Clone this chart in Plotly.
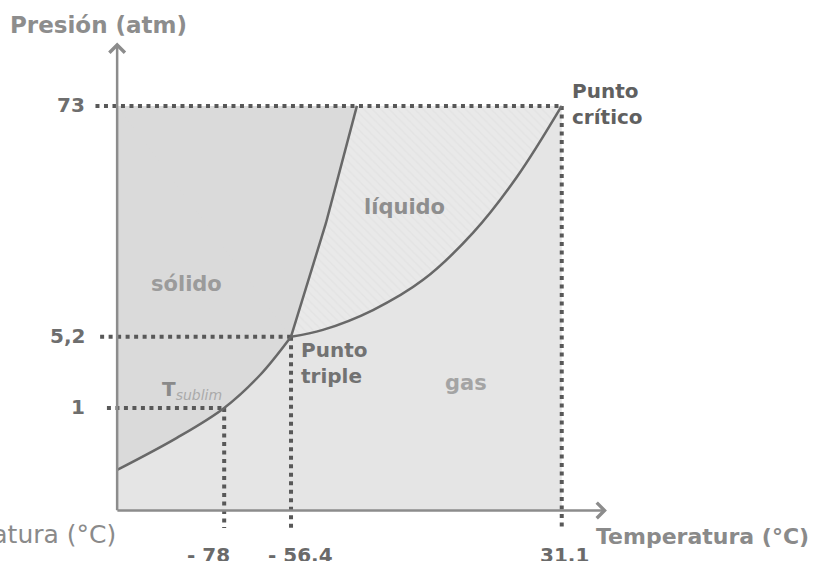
import numpy as np
import plotly.graph_objects as go

# ---- data: CO2 phase diagram -------------------------------------------
# reference temperatures (°C) and pressures (atm)
tick_temps = [-78, -56.4, 31.1]
tick_temp_labels = ["- 78", "- 56.4", "31.1"]
tick_press = [1, 5.2, 73]
tick_press_labels = ["1", "5,2", "73"]

# sublimation curve (solid / gas)
subl_T = [-112.6, -93.3, -78, -66.4, -56.4]
subl_P = [0.055, 0.34, 1.0, 2.39, 5.2]

# fusion curve (solid / liquid)
fus_T = [-56.4, -45.1, -35.1]
fus_P = [5.2, 25.1, 73]

# vaporization curve (liquid / gas)
vap_T = [-56.4, -46.1, -29.9, -13.7, 2.4, 16.6, 31.1]
vap_P = [5.2, 5.87, 8.13, 12.6, 22.5, 39.9, 73]

# extent of the drawn axes
T_MIN, T_MAX = -112.6, 45.7
P_MAX = 115

# ---- schematic pressure scale ------------------------------------------
P_EXP = 0.32


def ps(p):
    return np.power(np.asarray(p, dtype=float), P_EXP)


FONT = "DejaVu Sans"
AXIS_COLOR = "#8c8c8c"
CURVE_COLOR = "#686868"
DOT_COLOR = "#585858"
GAS_FILL = "#e5e5e5"
SOLID_FILL = "#dadada"
LIQ_FILL = "#e9e9e9"

crit_T, crit_P = vap_T[-1], vap_P[-1]
u_top = float(ps(crit_P))

fig = go.Figure()

# gas background: whole box under the critical point
fig.add_shape(type="rect", layer="below", xref="x", yref="y",
              x0=T_MIN, x1=crit_T, y0=0, y1=u_top,
              fillcolor=GAS_FILL, line=dict(width=0))

invis = dict(width=1, color="rgba(0,0,0,0)")

# solid region, left of the triple point (between top edge and sublimation curve)
fig.add_trace(go.Scatter(x=[T_MIN, subl_T[-1]], y=[u_top, u_top], mode="lines",
                         line=invis, hoverinfo="skip"))
fig.add_trace(go.Scatter(x=subl_T, y=ps(subl_P), mode="lines",
                         line=dict(width=1, color="rgba(0,0,0,0)", shape="spline"),
                         fill="tonexty", fillcolor=SOLID_FILL, hoverinfo="skip"))
# solid region, wedge left of the fusion curve
fig.add_trace(go.Scatter(x=fus_T + [T_MIN], y=ps(fus_P + [crit_P]), mode="lines",
                         line=invis, fill="toself", fillcolor=SOLID_FILL,
                         hoverinfo="skip"))

# liquid region between fusion and vaporization curves
fig.add_trace(go.Scatter(x=vap_T, y=ps(vap_P), mode="lines",
                         line=dict(width=1, color="rgba(0,0,0,0)", shape="spline"),
                         hoverinfo="skip"))
fig.add_trace(go.Scatter(x=fus_T + [crit_T], y=ps(fus_P + [crit_P]), mode="lines",
                         line=invis, fill="tonexty", fillcolor=LIQ_FILL,
                         fillpattern=dict(shape="\\", bgcolor=LIQ_FILL,
                                          fgcolor="#dedede", size=6, solidity=0.25),
                         hoverinfo="skip"))

# dotted guide lines
dot = dict(color=DOT_COLOR, width=4, dash="4px,4.5px")
left_ext = [3.3, 5.5, 7.0]          # how far each horizontal guide pokes past the axis
for T, P, ext in zip(tick_temps, tick_press, left_ext):
    u = float(ps(P))
    fig.add_trace(go.Scatter(x=[T_MIN - ext, T], y=[u, u], mode="lines",
                             line=dot, hoverinfo="skip"))
    fig.add_trace(go.Scatter(x=[T, T], y=[u, -0.17], mode="lines",
                             line=dot, hoverinfo="skip"))

# phase boundaries
fig.add_trace(go.Scatter(x=subl_T, y=ps(subl_P), mode="lines",
                         line=dict(color=CURVE_COLOR, width=2.5, shape="spline"),
                         hoverinfo="skip"))
fig.add_trace(go.Scatter(x=fus_T, y=ps(fus_P), mode="lines",
                         line=dict(color=CURVE_COLOR, width=2.5),
                         hoverinfo="skip"))
fig.add_trace(go.Scatter(x=vap_T, y=ps(vap_P), mode="lines",
                         line=dict(color=CURVE_COLOR, width=2.5, shape="spline"),
                         hoverinfo="skip"))

# axes with arrow heads
fig.add_annotation(x=T_MAX, y=0, ax=T_MIN - 0.4, ay=0,
                   xref="x", yref="y", axref="x", ayref="y", text="",
                   showarrow=True, arrowhead=4, arrowsize=1.2, arrowwidth=2.5,
                   arrowcolor=AXIS_COLOR, standoff=0)
fig.add_annotation(x=T_MIN, y=float(ps(P_MAX)), ax=T_MIN, ay=-0.012,
                   xref="x", yref="y", axref="x", ayref="y", text="",
                   showarrow=True, arrowhead=4, arrowsize=1.2, arrowwidth=2.5,
                   arrowcolor=AXIS_COLOR, standoff=0)

# axis titles
fig.add_annotation(xref="paper", yref="paper", x=0.010, y=0.955,
                   xanchor="left", yanchor="middle", showarrow=False,
                   text="<b>Presión (atm)</b>",
                   font=dict(family=FONT, size=23, color="#8d8d8d"))
fig.add_annotation(x=T_MAX, y=0, xref="x", yref="y", xanchor="left",
                   yanchor="middle", xshift=-13, yshift=-26, showarrow=False,
                   text="<b>Temperatura (°C)</b>",
                   font=dict(family=FONT, size=22, color="#8a8a8a"))
fig.add_annotation(x=T_MIN, y=0, xref="x", yref="y", xanchor="right",
                   yanchor="middle", xshift=1, yshift=-24, showarrow=False,
                   text="Temperatura (°C)",
                   font=dict(family=FONT, size=25, color="#8a8a8a"))

# tick labels
for P, lab in zip(tick_press, tick_press_labels):
    fig.add_annotation(x=T_MIN, y=float(ps(P)), xref="x", yref="y",
                       xanchor="right", yanchor="middle", xshift=-30, yshift=1,
                       showarrow=False, text=f"<b>{lab}</b>",
                       font=dict(family=FONT, size=20, color="#6e6e6e"))
for T, lab, dx in zip(tick_temps, tick_temp_labels, [-16, 9, 3]):
    fig.add_annotation(x=T, y=0, xref="x", yref="y", xanchor="center",
                       yanchor="middle", xshift=dx, yshift=-45,
                       showarrow=False, text=f"<b>{lab}</b>",
                       font=dict(family=FONT, size=20, color="#6a6a6a"))

# phase names
phases = [("sólido", -90.3, 11.9, "#9b9b9b"),
          ("líquido", -19.6, 29.7, "#8e8e8e"),
          ("gas", 0.0, 2.0, "#a4a4a4")]
for name, T, P, col in phases:
    fig.add_annotation(x=T, y=float(ps(P)), xref="x", yref="y",
                       showarrow=False, text=f"<b>{name}</b>",
                       font=dict(family=FONT, size=21, color=col))

# special points
fig.add_annotation(x=tick_temps[1], y=float(ps(tick_press[1])), xref="x", yref="y",
                   xanchor="left", yanchor="top", xshift=8, yshift=1,
                   align="left", showarrow=False, text="<b>Punto<br>triple</b>",
                   font=dict(family=FONT, size=20, color="#727272"))
fig.add_annotation(x=crit_T, y=u_top, xref="x", yref="y",
                   xanchor="left", yanchor="middle", xshift=8, yshift=2,
                   align="left", showarrow=False, text="<b>Punto<br>crítico</b>",
                   font=dict(family=FONT, size=20, color="#606060"))
fig.add_annotation(x=tick_temps[0], y=float(ps(tick_press[0])), xref="x", yref="y",
                   xanchor="left", yanchor="middle", xshift=-64, yshift=18,
                   showarrow=False,
                   text="<b>T</b><sub><i><span style='color:#aaaaaa'>sublim</span></i></sub>",
                   font=dict(family=FONT, size=20, color="#8a8a8a"))

fig.update_layout(
    width=819, height=561,
    margin=dict(l=0, r=0, t=0, b=0),
    paper_bgcolor="white", plot_bgcolor="white",
    showlegend=False,
    xaxis=dict(visible=False, range=[-150.46, 114.25], fixedrange=True),
    yaxis=dict(visible=False, range=[-0.493, 4.980], fixedrange=True),
)

fig.write_html("out.html")
